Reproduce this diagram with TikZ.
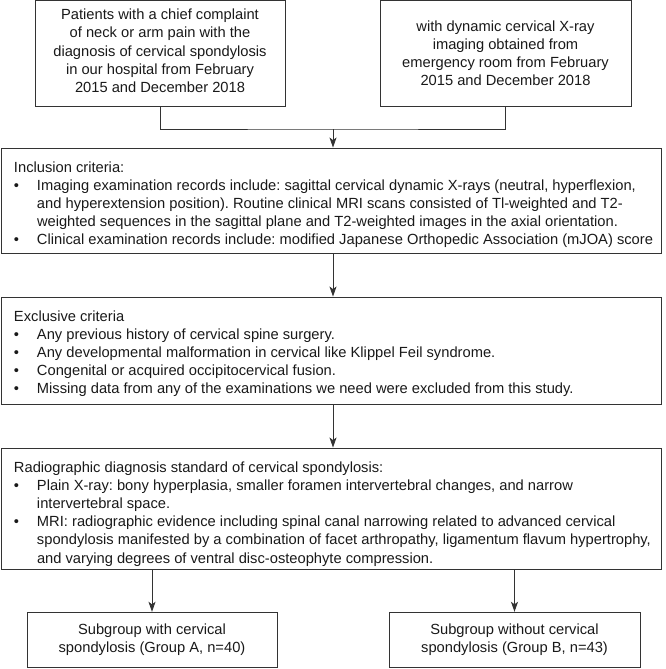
\documentclass[tikz,border=0pt]{standalone}
\usepackage{fontspec}
\setmainfont{Liberation Sans}
\usetikzlibrary{arrows.meta}
\newcommand{\ltitle}{\hspace*{13pt}\rule{0pt}{24pt}}
\newcommand{\bitem}{\hspace*{13pt}\makebox[23pt][l]{\textbullet}}
\newcommand{\bcont}{\hspace*{36pt}}
\newenvironment{widetext}[1]{\begin{minipage}[t][#1][t]{660pt}\raggedright}{\end{minipage}}
\begin{document}
\begin{tikzpicture}[x=1pt,y=-1pt,
  box/.style={draw=black!80, line width=0.9pt, inner sep=0pt,
    font=\fontsize{14.7}{18.2}\selectfont\frenchspacing, text=black!90},
  cbox/.style={box, align=center},
  wbox/.style={box},
  arr/.style={draw=black!80, line width=0.9pt, -{Stealth[length=10pt,width=7pt,inset=2.5pt]}},
  con/.style={draw=black!80, line width=0.9pt}]
\useasboundingbox (0,0) rectangle (666,669);

\node[cbox, minimum width=250pt, minimum height=105.5pt] (top1) at (160,53.2)
  {Patients with a chief complaint\\of neck or arm pain with the\\diagnosis of cervical spondylosis\\in our hospital from February\\2015 and December 2018\rule[-5pt]{0pt}{5pt}};
\node[cbox, minimum width=251pt, minimum height=105.5pt] (top2) at (505.5,53.2)
  {with dynamic cervical X-ray\\imaging obtained from\\emergency room from February\\2015 and December 2018};

\node[wbox] (incl) at (331,200.5)
  {\begin{widetext}{105pt}
   \ltitle Inclusion criteria:\\
   \bitem Imaging examination records include: sagittal cervical dynamic X-rays (neutral, hyperflexion,\\
   \bcont and hyperextension position). Routine clinical MRI scans consisted of Tl-weighted and T2-\\
   \bcont weighted sequences in the sagittal plane and T2-weighted images in the axial orientation.\\
   \bitem Clinical examination records include: modified Japanese Orthopedic Association (mJOA) score
   \end{widetext}};

\node[wbox] (excl) at (331,350.5)
  {\begin{widetext}{107pt}
   \ltitle Exclusive criteria\\
   \bitem Any previous history of cervical spine surgery.\\
   \bitem Any developmental malformation in cervical like Klippel Feil syndrome.\\
   \bitem Congenital or acquired occipitocervical fusion.\\
   \bitem Missing data from any of the examinations we need were excluded from this study.
   \end{widetext}};

\node[wbox] (radio) at (331,508.5)
  {\begin{widetext}{121pt}
   \ltitle Radiographic diagnosis standard of cervical spondylosis:\\
   \bitem Plain X-ray: bony hyperplasia, smaller foramen intervertebral changes, and narrow\\
   \bcont intervertebral space.\\
   \bitem MRI: radiographic evidence including spinal canal narrowing related to advanced cervical\\
   \bcont spondylosis manifested by a combination of facet arthropathy, ligamentum flavum hypertrophy,\\
   \bcont and varying degrees of ventral disc-osteophyte compression.
   \end{widetext}};

\node[cbox, minimum width=250pt, minimum height=55.5pt] (gA) at (152,640)
  {Subgroup with cervical\\spondylosis (Group A, n=40)};
\node[cbox, minimum width=251pt, minimum height=55.5pt] (gB) at (514.5,640)
  {Subgroup without cervical\\spondylosis (Group B, n=43)};

\coordinate (j) at (333,129);
\draw[con] (top1.south) |- (j) -| (top2.south);
\draw[arr] (j) -- (j |- incl.north);
\draw[arr] (incl.south -| j) -- (excl.north -| j);
\draw[arr] (excl.south -| j) -- (radio.north -| j);
\draw[arr] (radio.south -| gA) -- (gA.north);
\draw[arr] (radio.south -| gB) -- (gB.north);
\end{tikzpicture}
\end{document}
